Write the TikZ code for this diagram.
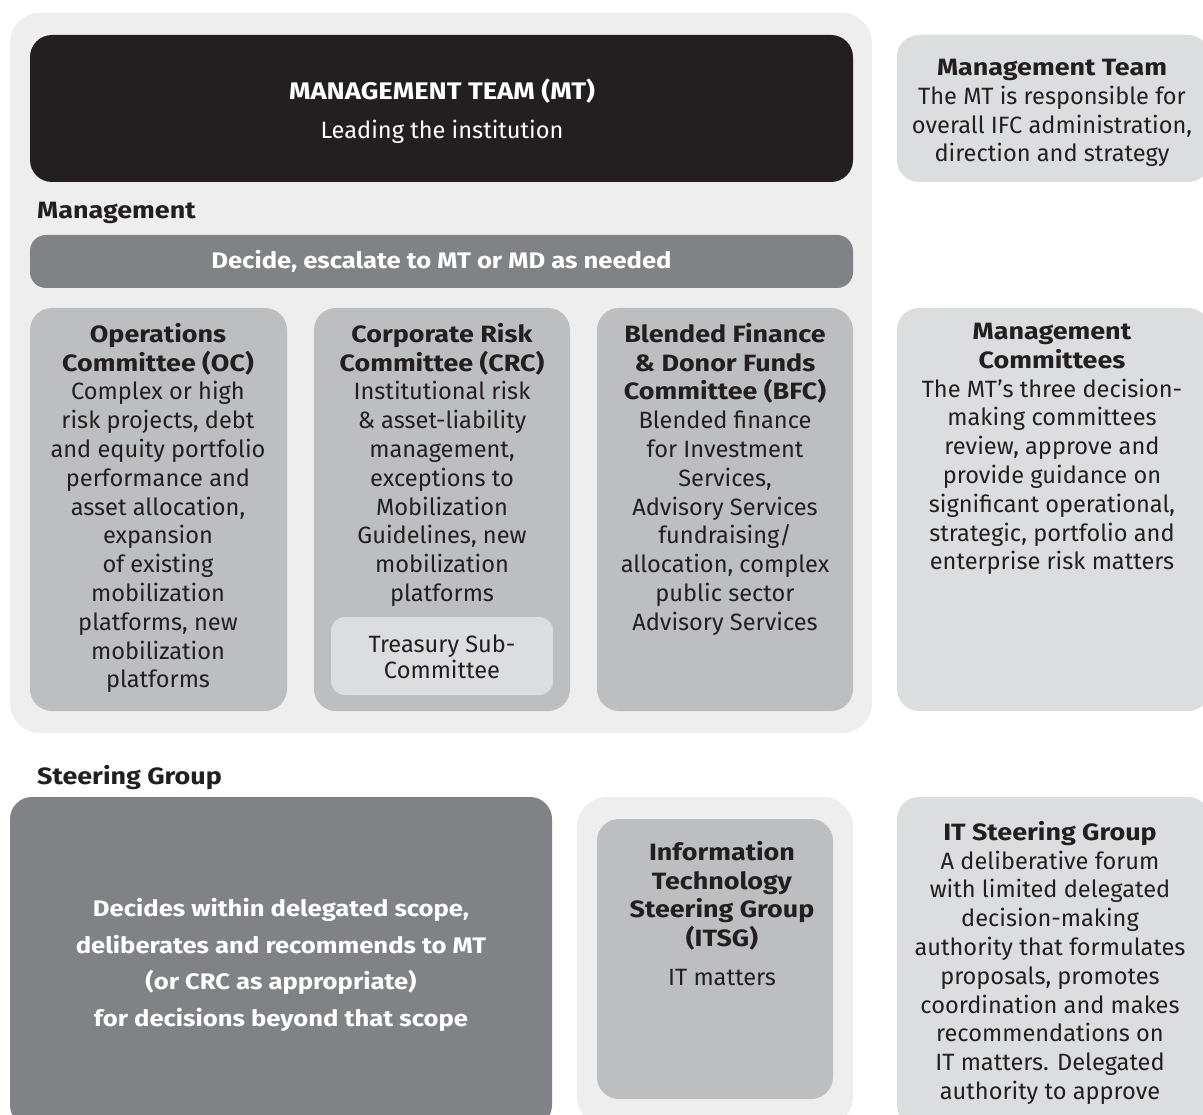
\documentclass[tikz,border=0pt]{standalone}
\usepackage{fontspec}
\setmainfont{Fira Sans}[BoldFeatures={FakeStretch=1.14}]
\definecolor{panel}{HTML}{EEEEEE}
\definecolor{ink}{HTML}{231F20}
\definecolor{dgray}{HTML}{808285}
\definecolor{mgray}{HTML}{BCBEC0}
\definecolor{lgray}{HTML}{DCDDDE}
\begin{document}
\begin{tikzpicture}[x=1pt,y=-1pt,
  box/.style={anchor=north west, inner sep=0pt, outer sep=0pt, rounded corners=22pt, draw=none},
  txt/.style={anchor=north, align=center, inner sep=0pt, text=ink, font=\fontsize{23.6}{28.8}\selectfont},
  wtxt/.style={align=center, inner sep=0pt, text=white, font=\fontsize{22.5}{28.8}\selectfont\bfseries},
  lbl/.style={anchor=north west, inner sep=0pt, text=ink, font=\fontsize{23.6}{28.8}\selectfont\bfseries}]
\useasboundingbox (0,0) rectangle (1203,1115);
\clip (0,0) rectangle (1203,1115);
\fill[white] (0,0) rectangle (1203,1115);

% management panel
\node[box, fill=panel, rounded corners=30pt, minimum width=862pt, minimum height=720pt] (mpanel) at (10,13) {};
\node[box, fill=ink, minimum width=823pt, minimum height=147pt] (mt) at (30,35) {};
\node[wtxt, anchor=north, font=\fontsize{24}{28.8}\selectfont\bfseries] (mttitle) at (442,79) {MANAGEMENT TEAM (MT)};
\node[wtxt, anchor=north, font=\fontsize{23.6}{28.8}\selectfont] (mtsub) at (442,120) {Leading the institution};
\node[lbl] (mlabel) at (37,202) {Management};
\node[box, fill=dgray, rounded corners=16pt, minimum width=823pt, minimum height=53pt] (bar) at (30,235) {};
\node[wtxt] (bartxt) at (bar.center) {Decide, escalate to MT or MD as needed};

% committees
\node[box, fill=mgray, minimum width=257pt, minimum height=403pt] (oc) at (30,308) {};
\node[box, fill=mgray, minimum width=256pt, minimum height=403pt] (crc) at (314,308) {};
\node[box, fill=mgray, minimum width=256pt, minimum height=403pt] (bfc) at (597,308) {};
\node[box, fill=lgray, rounded corners=14pt, minimum width=222pt, minimum height=78pt] (tsc) at (331,617) {};

\node[txt] (octxt) at (158,323) {\textbf{Operations}\\\textbf{Committee (OC)}\\Complex or high\\risk projects, debt\\and equity portfolio\\performance and\\asset allocation,\\expansion\\of existing\\mobilization\\platforms, new\\mobilization\\platforms};
\node[txt] (crctxt) at (442,323) {\textbf{Corporate Risk}\\\textbf{Committee (CRC)}\\Institutional risk\\\& asset-liability\\management,\\exceptions to\\Mobilization\\Guidelines, new\\mobilization\\platforms};
\node[txt] (tsctxt) at (442,635) {Treasury Sub-\\[-2.8pt]Committee};
\node[txt] (bfctxt) at (725,323) {\textbf{Blended Finance}\\\textbf{\& Donor Funds}\\\textbf{Committee (BFC)}\\Blended finance\\for Investment\\Services,\\Advisory Services\\fundraising/\\allocation, complex\\public sector\\Advisory Services};

% right descriptions
\node[box, fill=lgray, minimum width=313pt, minimum height=147pt] (mtdesc) at (897,35) {};
\node[txt] (mtdesctxt) at (1052,59) {\textbf{Management Team}\\The MT is responsible for\\overall IFC administration,\\direction and strategy};
\node[box, fill=lgray, minimum width=313pt, minimum height=403pt] (mcdesc) at (897,308) {};
\node[txt] (mcdesctxt) at (1052,323) {\textbf{Management}\\\textbf{Committees}\\The MT’s three decision-\\making committees\\review, approve and\\provide guidance on\\significant operational,\\strategic, portfolio and\\enterprise risk matters};

% steering group
\node[lbl] (slabel) at (37,765) {Steering Group};
\node[box, fill=dgray, minimum width=542pt, minimum height=330pt] (sg) at (10,797) {};
\node[wtxt, anchor=north, font=\fontsize{22.5}{36.7}\selectfont\bfseries] (sgtxt) at (281,898) {Decides within delegated scope,\\deliberates and recommends to MT\\(or CRC as appropriate)\\for decisions beyond that scope};
\node[box, fill=panel, rounded corners=30pt, minimum width=276pt, minimum height=330pt] (itpanel) at (577,797) {};
\node[box, fill=mgray, minimum width=236pt, minimum height=280pt] (itsg) at (597,819) {};
\node[txt] (itsgtxt) at (722,841) {\textbf{Information}\\\textbf{Technology}\\\textbf{Steering Group}\\\textbf{(ITSG)}\\[10pt]IT matters};
\node[box, fill=lgray, minimum width=313pt, minimum height=330pt] (itdesc) at (897,797) {};
\node[txt] (itdesctxt) at (1050,821) {\textbf{IT Steering Group}\\A deliberative forum\\with limited delegated\\decision-making\\authority that formulates\\proposals, promotes\\coordination and makes\\recommendations on\\IT matters. Delegated\\authority to approve};
\end{tikzpicture}
\end{document}
